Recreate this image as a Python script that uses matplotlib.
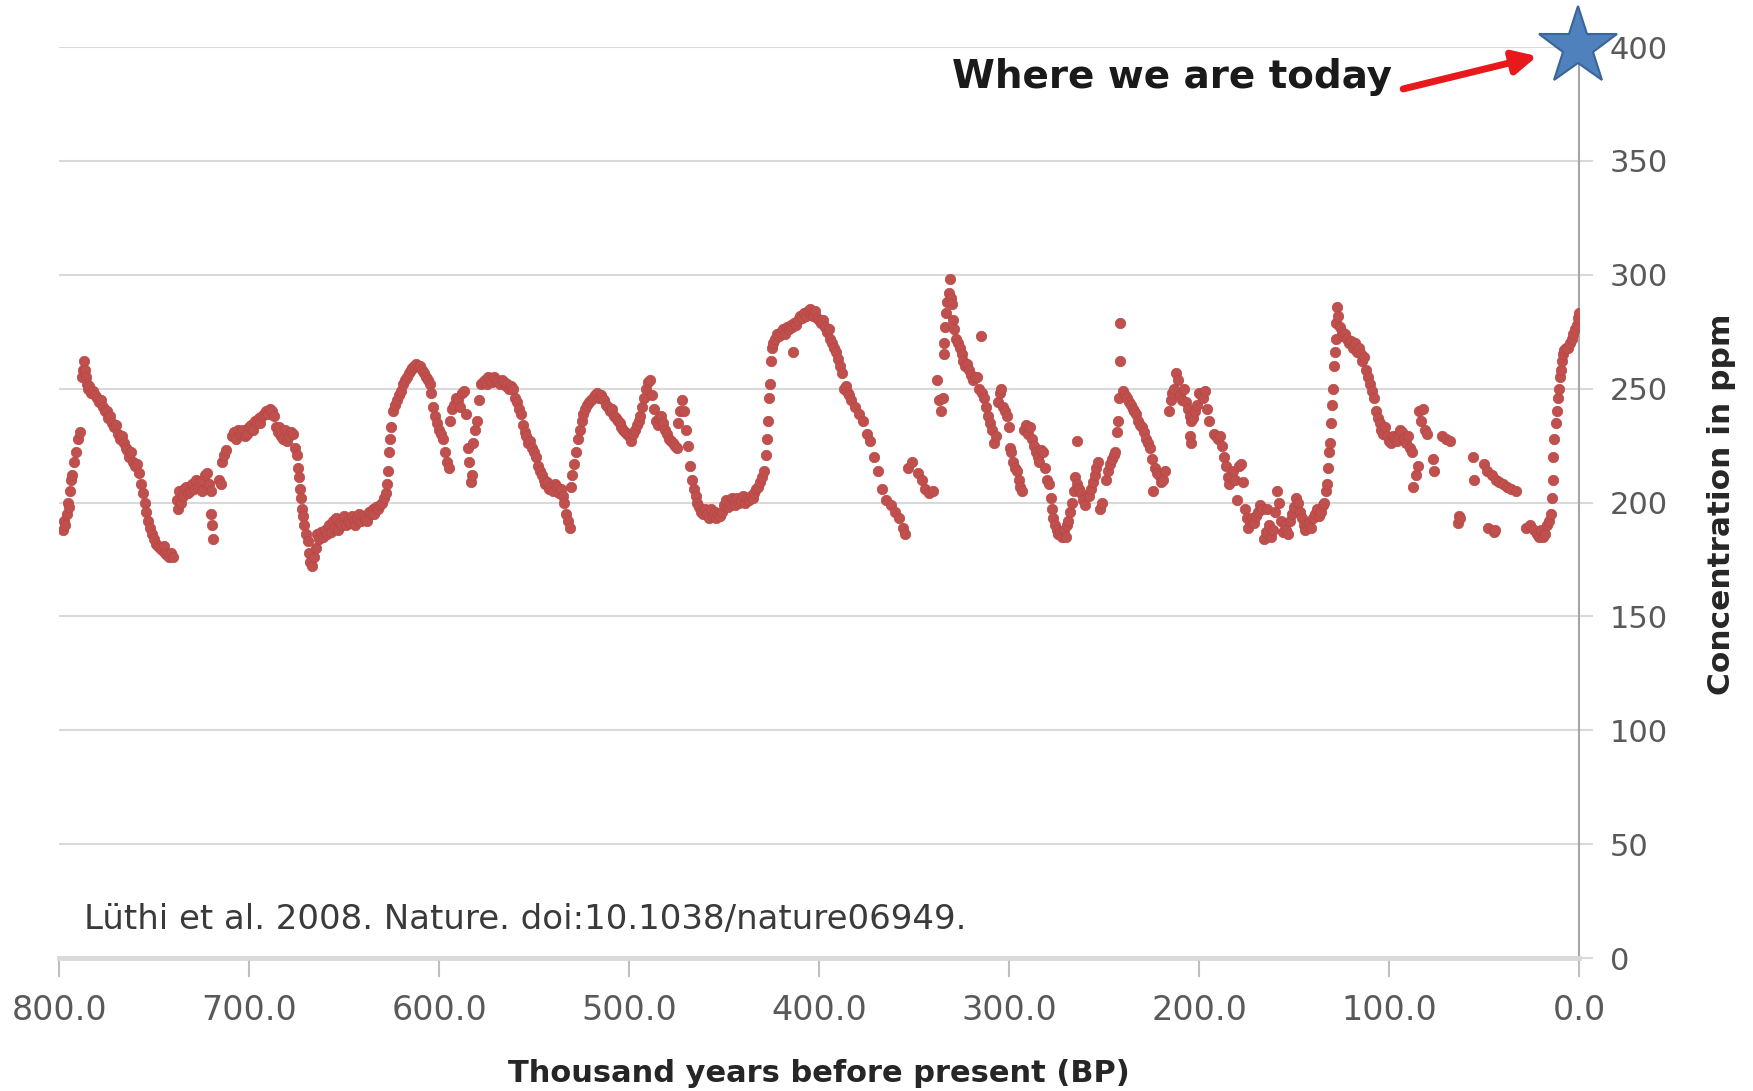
import numpy as np
import matplotlib
matplotlib.use("Agg")
import matplotlib.pyplot as plt
from matplotlib.ticker import FormatStrFormatter

# CO2 in ice cores (EPICA Dome C composite), (thousand years BP, ppm), one list per stretch
seg_800_700 = [
    (798, 188), (797.5, 192), (797, 190), (796, 195), (795.5, 200), (795, 198), (794, 205),
    (793.5, 210), (793, 212), (792, 218), (791, 222), (790, 228), (789, 231),
    (788, 255), (787.5, 258), (787, 262), (786.5, 258), (786, 255), (785.5, 252), (785, 250),
    (784, 251), (783, 248), (782, 249), (781, 247), (780, 246), (779, 244), (778, 245),
    (777, 242), (776, 240), (775, 240), (774, 237), (773, 238), (772, 235), (771, 233),
    (770, 234), (769, 230), (768, 228), (767, 229), (766, 226), (765, 224), (764, 223),
    (763, 220), (762, 222), (761, 218), (760, 216), (759, 217), (758, 213), (757, 208),
    (756, 204), (755, 200), (754, 196), (753, 192), (752, 189), (751, 186), (750, 184),
    (749, 182), (748, 181), (747, 180), (746, 179), (745, 181), (744, 178), (743, 177),
    (742, 176), (741, 178), (740, 176),
    (738, 201), (737.5, 197), (737, 205), (736, 200), (735, 203), (734, 206), (733, 207),
    (732, 204), (731, 205), (730, 208), (729, 206), (728, 210), (727, 207), (726, 209),
    (725, 205), (724, 210), (723, 212), (722, 213), (721, 208), (720, 205),
    (720, 195), (719.5, 190), (719, 184), (716, 210), (715, 208), (714, 218), (713, 221),
    (712, 223), (709, 229), (708, 231), (707, 228), (706, 232), (705, 230), (704, 231),
    (703, 232), (702, 229), (701, 230),
]

seg_700_600 = [
    (700, 233), (699, 234), (698, 232), (697, 236), (696, 235), (695, 237), (694, 235),
    (693, 238), (692, 239), (691, 240), (690, 239), (689, 241), (688, 240), (687, 238),
    (686, 233), (685, 231), (684, 233), (683, 229), (682, 228), (681, 232), (680, 227),
    (679, 229), (678, 231), (677, 230), (676, 224), (675, 221), (674, 215), (673.5, 211),
    (673, 206), (672.5, 202), (672, 197), (671.5, 194), (671, 190), (670, 186), (669, 183),
    (668.5, 178), (668, 174), (667, 172),
    (666, 176), (665, 180), (664, 186), (663, 184), (662, 187), (661, 185), (660, 188),
    (659, 186), (658, 190), (657, 187), (656, 192), (655, 189), (654, 193), (653, 188),
    (652, 191), (651, 190), (650, 194), (649, 190), (648, 192), (647, 191), (646, 194),
    (645, 192), (644, 190), (643, 193), (642, 195), (641, 192), (640, 194), (639, 193),
    (638, 192), (637, 196), (636, 195), (635, 197), (634, 195), (633, 198), (632, 197),
    (631, 199), (630, 200), (629, 202), (628, 204), (627.5, 208),
    (627, 214), (626.5, 222), (626, 228), (625.5, 233), (624, 240), (623, 243), (622, 245),
    (621, 247), (620, 249), (619, 252), (618, 254), (617, 255), (616, 257), (615, 258),
    (614, 259), (613, 260), (612, 261), (611, 260), (610, 260), (609, 258), (608, 257),
    (607, 255), (606, 254), (605, 252), (604, 248), (603, 242), (602, 238), (601, 235),
]

seg_600_500 = [
    (600, 232), (599, 230), (598, 228), (597, 222), (596, 218), (595, 215), (594, 236),
    (593, 241), (592, 243), (591, 246), (590, 245), (589, 242), (588, 248), (587, 249),
    (586, 239), (585, 224), (584, 218), (583, 209), (582.5, 212), (582, 226), (581, 232),
    (580, 236), (579, 245), (578, 252), (577, 253), (576, 254), (575, 252), (574, 255),
    (573, 254), (572, 253), (571, 255), (570, 254), (569, 253), (568, 252), (567, 254),
    (566, 253), (565, 251), (564, 252), (563, 250), (562, 251), (561, 250), (560, 246),
    (559, 244), (558, 241), (557, 239), (556, 234), (555, 231), (554, 229), (553, 226),
    (552, 227), (551, 224), (550, 222), (549, 220), (548, 216), (547, 214), (546, 212),
    (545, 210), (544, 208), (543, 209), (542, 206), (541, 207), (540, 205), (539, 208),
    (538, 207), (537, 204), (536, 206), (535, 203), (534, 200), (533, 195), (532, 192),
    (531, 189),
    (530.5, 207), (530, 212), (529, 217), (528, 222), (527, 228), (526, 232), (525, 236),
    (524, 239), (523, 241), (522, 243), (521, 244), (520, 245), (519, 246), (518, 247),
    (517, 248), (516, 246), (515, 247), (514, 246), (513, 245), (512, 243), (511, 242),
    (510, 240), (509, 241), (508, 238), (507, 237), (506, 236), (505, 235), (504, 233),
    (503, 232), (502, 231), (501, 230),
]

seg_500_400 = [
    (500, 229), (499, 227), (498, 230), (497, 232), (496, 234), (495, 236), (494, 238),
    (493, 242), (492, 246), (491, 250), (490, 253), (489, 254), (488, 247), (487, 241),
    (486, 236), (485, 234), (484, 237), (483, 238), (482, 235), (481, 232), (480, 230),
    (479, 228), (478, 227), (477, 226), (476, 225), (475, 224), (474, 235), (473, 240),
    (472, 245), (471, 240), (470, 232), (469, 225), (468, 216), (467, 210), (466, 206),
    (465, 203), (464, 200), (463, 198), (462, 196), (461, 195), (460, 197), (459, 195),
    (458, 193), (457, 197), (456, 194), (455, 196), (454, 193), (453, 195), (452, 194),
    (451, 196), (450, 199), (449, 201), (448, 198), (447, 200), (446, 202), (445, 201),
    (444, 199), (443, 202), (442, 200), (441, 201), (440, 203), (439, 200), (438, 202),
    (437, 201), (436, 203), (435, 202), (434, 204), (433, 206), (432, 207), (431, 209),
    (430, 211), (429, 214),
    (428, 221), (427.5, 228), (427, 236), (426.5, 246), (426, 252), (425.5, 262), (425, 268),
    (424, 270), (423, 272), (422, 274), (421, 273), (420, 275), (419, 276), (418, 274),
    (417, 277), (416, 276), (415, 278), (414, 277), (413.5, 266), (413, 279), (412, 278),
    (411, 280), (410, 282), (409, 281), (408, 283), (407, 282), (406, 284), (405, 285),
    (404, 283), (403, 282), (402, 284), (401, 281),
]

seg_400_300 = [
    (400, 280), (399, 279), (398, 280), (397, 277), (396, 275), (395, 276), (394, 272),
    (393, 270), (392, 268), (391, 266), (390, 263), (389, 260), (388, 257), (387, 250),
    (386, 251), (385, 248), (384, 247), (383, 245), (381, 242), (379, 239), (377, 236),
    (375, 230), (373, 227), (371, 220), (369, 214), (367, 206), (365, 201), (362, 199),
    (360, 196), (358, 193), (356, 189), (355, 186), (353, 215), (351, 218), (348, 213),
    (346, 210), (344, 206), (342, 204), (340, 205),
    (338, 254), (337, 245), (336, 240), (335, 246), (334.5, 265), (334, 270), (333.5, 277),
    (333, 283), (332.5, 288), (331.5, 292), (331, 298), (330.5, 290), (330, 287),
    (329.5, 280), (329, 276), (328, 272), (327, 270), (326, 268), (325, 265), (324, 262),
    (323, 260), (322, 261), (321, 258), (320, 256), (319, 254), (318, 255), (317, 255),
    (315, 273), (316, 250), (314, 248), (313, 246), (312, 242), (311, 238), (310, 235),
    (309, 232), (308, 226), (307, 229), (306, 244), (305, 248), (304, 250), (303, 242),
    (302, 240), (301, 238),
]

seg_300_165 = [
    (300, 233), (299.5, 224), (299, 222), (298, 218), (297, 215), (296, 214), (295, 210),
    (294, 207), (293, 205), (292, 232), (291, 234), (290, 230), (289, 233), (288, 228),
    (287, 225), (286, 222), (285, 220), (284, 218), (283, 223), (282, 222), (281, 215),
    (280, 210), (279, 208), (278, 202), (277.5, 197), (277, 193), (276, 190), (275, 188),
    (274, 186), (273, 187), (272, 185), (271, 188), (270, 185), (269.5, 190), (269, 192),
    (268, 196), (267, 200), (266, 205), (265.5, 211), (264, 227), (264.5, 208), (263, 206),
    (262, 204), (261, 201), (260, 199), (258, 203), (257, 206), (256, 209), (255, 212),
    (254, 215), (253, 218), (252, 197), (251, 200), (249, 210), (248, 214), (247, 217),
    (246, 219), (245, 221), (244, 222), (243, 231), (242.5, 236), (242, 246), (241.6, 262),
    (241.5, 279), (240, 249), (239, 247), (238, 246), (237, 244), (236, 243), (235, 241),
    (234, 240), (233, 239), (232, 236), (231, 234), (230, 233), (229, 231), (228, 228),
    (227, 226), (226, 224), (225, 219), (224, 205), (223, 215), (222, 213), (221, 212),
    (220, 209), (219, 210), (218, 214),
    (216, 240), (215, 245), (214, 248), (213, 250), (212, 257), (211, 254), (210, 247),
    (209, 245), (208, 250), (207, 244), (206, 241), (205, 238), (204, 236), (203, 237),
    (202, 240), (201, 243), (200, 248), (199, 247), (198, 246), (197, 249), (196, 241),
    (195, 236), (205, 229), (204, 226), (192, 230), (191, 229), (190, 228), (189, 229),
    (188, 225), (187, 220), (186, 216), (185, 211), (184, 208), (183, 211), (182, 214),
    (181, 210), (180, 201), (179, 216), (178, 217), (177, 209), (176, 197), (175, 193),
    (174, 189), (173, 192), (172, 193), (171, 191), (170, 194), (169, 196), (168, 199),
    (167, 197), (166, 184), (165, 187),
]

seg_165_100 = [
    (164, 197), (163, 190), (162, 185), (161, 188), (160, 196), (159, 205), (158, 200),
    (157, 192), (156, 187), (155, 190), (154, 188), (153, 186), (152, 192), (151, 195),
    (150, 198), (149, 202), (148, 200), (147, 196), (146, 193), (145, 190), (144, 188),
    (143, 190), (142, 191), (141, 189), (140, 193), (139, 195), (138, 197), (137, 194),
    (136, 196), (135, 199), (134, 200), (133, 205), (132.5, 208), (132, 215), (131.5, 222),
    (131, 226), (130.5, 235), (130, 243), (129.5, 250), (129, 260), (128.5, 266), (128, 272),
    (127.8, 279), (127.4, 286), (127, 282), (126, 277), (125, 275), (124, 273), (123, 274),
    (122, 272), (121, 270), (120, 271), (119, 268), (118, 270), (117, 266), (116, 268),
    (115, 265), (114, 262), (113, 264), (112, 258), (111, 255), (110, 252), (109, 249),
    (108, 246), (107, 240), (106, 237), (105, 235), (104, 232), (103, 230), (102, 233),
    (101, 229), (100, 227),
]

seg_100_0 = [
    (99, 226), (98, 229), (97, 228), (96, 227), (95, 230), (94, 232), (93, 231), (92, 228),
    (91, 226), (90, 229), (89, 224), (88, 222), (87.4, 207), (86, 212), (85, 216),
    (84, 240), (83, 236), (82, 241), (81, 232), (80, 230), (77, 219), (76.5, 214),
    (72, 229), (70, 228), (68, 227), (64, 191), (63, 194), (62.5, 193), (56, 220),
    (55.5, 210), (50, 217), (48.5, 214), (46, 212), (44, 210), (42, 209), (40, 208),
    (38, 207), (36, 206), (33, 205), (48, 189), (45, 187), (44.5, 188), (28, 189),
    (26, 190), (24, 188), (22, 186), (21, 185), (20, 188), (19, 185), (18, 186), (17, 190),
    (16, 192), (15, 195), (14.5, 202), (14, 210), (13.7, 220), (13, 228), (12, 235),
    (11.6, 240), (11, 246), (10.5, 250), (10, 255), (9.5, 258), (9, 262), (8.5, 265),
    (8, 267), (7, 268), (6, 268), (5, 270), (4, 272), (3, 274), (2, 276), (1, 278),
    (0.5, 281), (0, 283),
]

# present-day concentration
today_age = 0.5
today_ppm = 400

x_ticks = [800, 700, 600, 500, 400, 300, 200, 100, 0]
y_ticks = [0, 50, 100, 150, 200, 250, 300, 350, 400]

registro = np.array(seg_800_700 + seg_700_600 + seg_600_500 + seg_500_400
                    + seg_400_300 + seg_300_165 + seg_165_100 + seg_100_0)
idade, co2 = registro[:, 0], registro[:, 1]

fig = plt.figure(figsize=(17.53, 10.91), dpi=100)
ax = fig.add_axes([0.0337, 0.1219, 0.8671, 0.8350])

ax.plot(idade, co2, "o", ms=7.5, color="#C0504D", mec="#B84744", mew=0.5, zorder=3)

# estrela = hoje
ax.plot([today_age], [today_ppm], marker="*", ms=59, color="#4F81BD",
        mec="#3A6596", mew=1.5, clip_on=False, zorder=5)

ax.set_xlim(800, 0)
ax.set_ylim(0, 400)
ax.set_xticks(x_ticks)
ax.set_yticks(y_ticks)
ax.xaxis.set_major_formatter(FormatStrFormatter("%.1f"))
ax.yaxis.tick_right()

ax.grid(axis="y", color="#D9D9D9", lw=1.5, zorder=0)
ax.set_axisbelow(True)

for lado in ["left", "top"]:
    ax.spines[lado].set_visible(False)
ax.spines["bottom"].set_color("#D9D9D9")
ax.spines["bottom"].set_linewidth(3.5)
ax.spines["right"].set_color("#A6A6A6")
ax.spines["right"].set_linewidth(1.5)

ax.tick_params(axis="x", length=14, width=1.5, color="#BFBFBF", pad=12,
               labelsize=24, labelcolor="#595959")
ax.tick_params(axis="y", length=10, width=1.5, color="#D9D9D9", pad=12,
               labelsize=22, labelcolor="#595959", left=False, right=True)

ax.set_xlabel("Thousand years before present (BP)", fontsize=22,
              fontweight="bold", color="#262626", va="center")
ax.xaxis.set_label_coords(0.5, -0.127)
ax.yaxis.set_label_position("right")
ax.set_ylabel("Concentration in ppm", fontsize=22.5, fontweight="bold",
              color="#262626", rotation=90, va="center")
ax.yaxis.set_label_coords(1.094, 0.498)

ax.text(214, 387, "Where we are today", fontsize=28, fontweight="bold",
        color="#1A1A1A", ha="center", va="center")
ax.annotate("", xy=(22, 396), xytext=(92.6, 381.6), annotation_clip=False,
            arrowprops=dict(arrowstyle="-|>", color="#E8191A", lw=5,
                            mutation_scale=35, shrinkA=0, shrinkB=0))

ax.text(787, 17, "Lüthi et al. 2008. Nature. doi:10.1038/nature06949.",
        fontsize=24.5, color="#3A3A3A", ha="left", va="center")

fig.savefig("out.png", dpi=100)
